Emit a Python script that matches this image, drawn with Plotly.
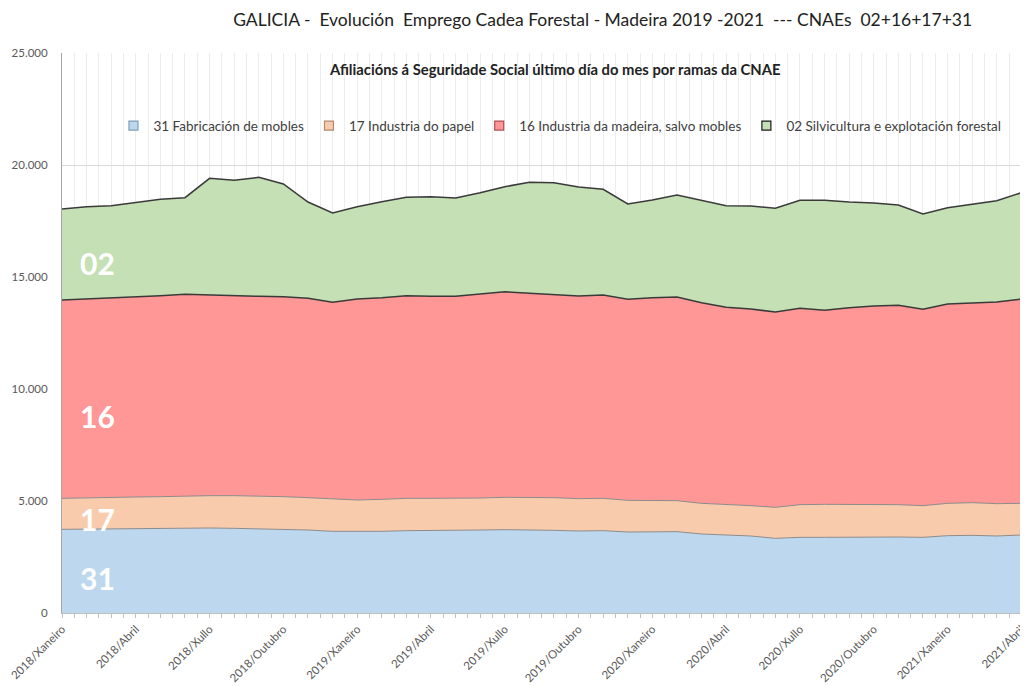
import plotly.graph_objects as go

months = ["Xaneiro", "Febreiro", "Marzo", "Abril", "Maio", "Xuño",
          "Xullo", "Agosto", "Setembro", "Outubro", "Novembro", "Decembro"]
categories = [f"{2018 + i // 12}/{months[i % 12]}" for i in range(40)]

cnae31 = [3735, 3750, 3750, 3765, 3765, 3780, 3795, 3780, 3765, 3735,
          3705, 3646, 3631, 3646, 3676, 3676, 3676, 3705, 3720, 3720,
          3690, 3661, 3676, 3616, 3631, 3631, 3527, 3482, 3438, 3333,
          3378, 3378, 3393, 3393, 3393, 3378, 3452, 3467, 3438, 3482]
cnae17 = [1384, 1399, 1414, 1413, 1428, 1443, 1443, 1458, 1458, 1458,
          1444, 1443, 1414, 1428, 1443, 1443, 1443, 1429, 1444, 1444,
          1459, 1443, 1443, 1414, 1399, 1384, 1369, 1369, 1354, 1384,
          1458, 1473, 1458, 1473, 1443, 1414, 1444, 1459, 1443, 1414]
cnae16 = [8854, 8869, 8884, 8916, 8972, 9003, 8958, 8899, 8914, 8929,
          8899, 8781, 8973, 9003, 9048, 9018, 9018, 9107, 9181, 9107,
          9047, 9048, 9077, 8973, 9047, 9092, 8959, 8797, 8779, 8720,
          8765, 8661, 8779, 8839, 8899, 8765, 8899, 8929, 9003, 9122]
cnae02 = [4063, 4120, 4135, 4241, 4304, 4314, 5210, 5180, 5314, 5030,
          4300, 3987, 4120, 4285, 4391, 4448, 4390, 4522, 4686, 4957,
          5014, 4866, 4719, 4256, 4361, 4554, 4583, 4535, 4599, 4630,
          4823, 4912, 4718, 4599, 4479, 4256, 4299, 4391, 4522, 4745]

series_names = ["31 Fabricación de mobles", "17 Industria do papel",
                "16 Industria da madeira, salvo mobles",
                "02 Silvicultura e explotación forestal"]
series_values = [cnae31, cnae17, cnae16, cnae02]
series_labels = ["31", "17", "16", "02"]
label_y = [1560, 4200, 8800, 15620]

fills = ["#BDD7EE", "#F8CBAD", "#FF9797", "#C5E0B4"]
lines = ["#8C8C8C", "#8C8C8C", "#3A3A3A", "#3A3A3A"]
widths = [1, 1, 1.5, 1.5]
legend_borders = ["#7F9DB9", "#B08A70", "#B05050", "#1A1A1A"]

xs = list(range(len(categories)))
tick_idx = list(range(0, len(categories), 3))

fig = go.Figure()
for name, vals, fc, lc, w in zip(series_names, series_values, fills, lines, widths):
    fig.add_trace(go.Scatter(
        x=xs, y=vals, name=name, mode="lines", stackgroup="one",
        fillcolor=fc, line=dict(color=lc, width=w), showlegend=False,
    ))
# legend entries with square swatches
for name, fc, bc in zip(series_names, fills, legend_borders):
    fig.add_trace(go.Scatter(
        x=[None], y=[None], name=name, mode="markers",
        marker=dict(symbol="square", size=9, color=fc, line=dict(color=bc, width=1.2)),
        showlegend=True,
    ))

for lab, ly in zip(series_labels, label_y):
    fig.add_annotation(x=1.46, y=ly, text=f"<b>{lab}</b>", showarrow=False,
                       font=dict(family="Lato", size=30, color="white"),
                       xanchor="center", yanchor="middle")

fig.add_annotation(xref="paper", yref="paper", x=0.51, y=0.972,
                   text="<b>Afiliacións á Seguridade Social último día do mes por ramas da CNAE</b>",
                   showarrow=False, font=dict(family="Lato", size=14.8, color="#222"),
                   xanchor="center", yanchor="middle")

fig.update_layout(
    width=1020, height=678,
    margin=dict(l=54, r=0, t=45, b=73, autoexpand=False),
    paper_bgcolor="white", plot_bgcolor="white",
    separators=",.",
    title=dict(text="GALICIA -  Evolución  Emprego Cadea Forestal - Madeira 2019 -2021  --- CNAEs  02+16+17+31",
               x=0.583, xanchor="center", y=0.982, yanchor="middle",
               font=dict(family="Lato", size=17.5, color="#222")),
    font=dict(family="Lato", color="#595959"),
    showlegend=True,
    legend=dict(orientation="h", x=0.5155, xanchor="center", y=0.87, yanchor="middle",
                font=dict(family="Lato", size=13.5, color="#404040"),
                bgcolor="rgba(0,0,0,0)", itemwidth=30, traceorder="normal"),
    xaxis=dict(range=[0, 39.27], tickmode="array", tickvals=tick_idx,
               ticktext=[categories[i] for i in tick_idx], tickangle=-45,
               tickfont=dict(family="Lato", size=11.5, color="#595959"),
               showgrid=True, gridcolor="#EDEDED", gridwidth=1,
               showline=True, linecolor="#BFBFBF", ticks="outside", ticklen=4,
               tickcolor="#BFBFBF", zeroline=False, automargin=False,
               minor=dict(tickmode="linear", tick0=0, dtick=0.5, showgrid=True,
                          gridcolor="#EDEDED", ticks="outside", ticklen=4,
                          tickcolor="#BFBFBF")),
    yaxis=dict(range=[0, 25000], dtick=5000, tickformat=",d",
               tickfont=dict(family="Lato", size=11.5, color="#595959"),
               showgrid=True, gridcolor="#D9D9D9", gridwidth=1, automargin=False,
               ticklabelstandoff=11,
               showline=True, linecolor="#A6A6A6", zeroline=False, ticks=""),
)

fig.write_html("out.html")
